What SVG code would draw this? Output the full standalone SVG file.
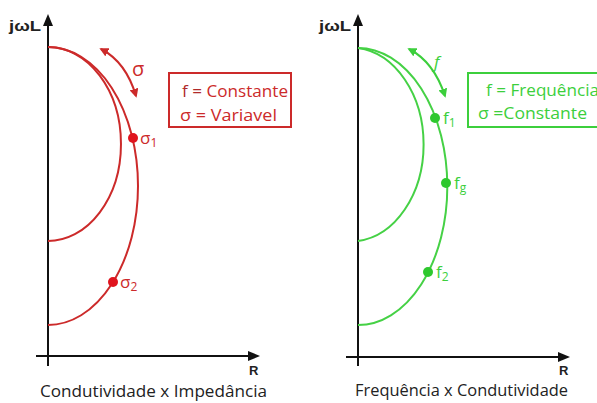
<svg xmlns="http://www.w3.org/2000/svg" width="597" height="403" viewBox="0 0 597 403">
<defs>
<marker id="ar" viewBox="0 0 10 10" refX="8" refY="5" markerWidth="9" markerHeight="9" orient="auto-start-reverse" markerUnits="userSpaceOnUse"><path d="M0,0 L10,5 L0,10 z" fill="#cc2a2a"/></marker>
<marker id="ag" viewBox="0 0 10 10" refX="8" refY="5" markerWidth="9" markerHeight="9" orient="auto-start-reverse" markerUnits="userSpaceOnUse"><path d="M0,0 L10,5 L0,10 z" fill="#3ccf3c"/></marker>
</defs>
<style>
.axis{stroke:#111;stroke-width:2;fill:none}
.head{fill:#111}
.rc{stroke:#cc2a2a;stroke-width:2;fill:none}
.gc{stroke:#45d145;stroke-width:2;fill:none}
.t{font-family:"Open Sans","Liberation Sans",sans-serif}
.ax{font-family:"Liberation Sans",sans-serif;font-weight:bold;font-size:14px;fill:#222}
.rl{font-family:"Liberation Sans",sans-serif;font-weight:bold;font-size:13px;fill:#222}
.cap{font-family:"Open Sans","Liberation Sans",sans-serif;font-size:15.5px;fill:#222}
.red{fill:#cc2a2a}
.grn{fill:#3ccf3c}
.lbl{font-size:17px}
</style>
<rect width="597" height="403" fill="#fff"/>

<g id="left-axes">
<line class="axis" x1="48" y1="366" x2="48" y2="24"/>
<path class="head" d="M48,14 L43,26 L53,26 z"/>
<line class="axis" x1="36" y1="356" x2="250" y2="356"/>
<path class="head" d="M260,356 L248,351 L248,361 z"/>
<text class="ax" x="9" y="31" textLength="32" lengthAdjust="spacingAndGlyphs">jωL</text>
<text class="rl" x="249" y="375">R</text>
</g>

<g id="right-axes">
<line class="axis" x1="358" y1="366" x2="358" y2="24"/>
<path class="head" d="M358,14 L353,26 L363,26 z"/>
<line class="axis" x1="346" y1="357" x2="560" y2="357"/>
<path class="head" d="M570,357 L558,352 L558,362 z"/>
<text class="ax" x="319" y="31" textLength="32" lengthAdjust="spacingAndGlyphs">jωL</text>
<text class="rl" x="559" y="375">R</text>
</g>

<g id="left-curves">
<path class="rc" d="M48,47 A73,97 0 0 1 48,241"/>
<path class="rc" d="M48,47 A90,139 0 0 1 48,325"/>
</g>

<g id="right-curves">
<path class="gc" d="M358,48 A73,97 0 0 1 358,241"/>
<path class="gc" d="M358,48 A89,138 0 0 1 358,325"/>
</g>

<g id="connectors">
<path d="M101,49 Q126,62 136,96" stroke="#cc2a2a" stroke-width="2" fill="none" marker-start="url(#ar)" marker-end="url(#ar)"/>
<path d="M409,49 Q434,62 445,96" stroke="#3ccf3c" stroke-width="2" fill="none" marker-start="url(#ag)" marker-end="url(#ag)"/>
</g>

<g id="left-labels">
<text class="t red" x="132" y="76" font-size="20">σ</text>
<circle cx="133" cy="138" r="5" fill="#e0141e"/>
<text class="t red lbl" x="140" y="144">σ<tspan font-size="12" dy="3">1</tspan></text>
<circle cx="113" cy="282" r="5" fill="#e0141e"/>
<text class="t red lbl" x="120" y="288">σ<tspan font-size="12" dy="3">2</tspan></text>
</g>

<g id="left-box">
<rect x="169" y="73" width="122" height="54" fill="#fff" stroke="#cc2a2a" stroke-width="2"/>
<text class="t red" x="182" y="97" font-size="17" textLength="106" lengthAdjust="spacingAndGlyphs"><tspan fill="#b02a2a">f = </tspan>Constante</text>
<text class="t red" x="180" y="121" font-size="17" textLength="97" lengthAdjust="spacingAndGlyphs">σ = Variavel</text>
</g>

<g id="right-labels">
<text class="t grn" x="434" y="68" font-size="17" font-style="italic">f</text>
<circle cx="435" cy="118" r="5" fill="#2ec82e"/>
<text class="t grn lbl" x="443" y="124">f<tspan font-size="12" dy="3">1</tspan></text>
<circle cx="446" cy="183" r="5" fill="#2ec82e"/>
<text class="t grn lbl" x="454" y="189">f<tspan font-size="12" dy="3">g</tspan></text>
<circle cx="428" cy="272" r="5" fill="#2ec82e"/>
<text class="t grn lbl" x="436" y="278">f<tspan font-size="12" dy="3">2</tspan></text>
</g>

<g id="right-box">
<rect x="468" y="73" width="130" height="54" fill="#fff" stroke="#3ccf3c" stroke-width="2"/>
<text class="t grn" x="486" y="96" font-size="17" textLength="113" lengthAdjust="spacingAndGlyphs">f = Frequência</text>
<text class="t grn" x="478" y="119" font-size="17" textLength="109" lengthAdjust="spacingAndGlyphs">σ =Constante</text>
</g>

<g id="captions">
<text class="cap" x="40" y="397" textLength="227" lengthAdjust="spacingAndGlyphs">Condutividade x Impedância</text>
<text class="cap" x="355" y="396" textLength="213" lengthAdjust="spacingAndGlyphs">Frequência x Condutividade</text>
</g>
</svg>
